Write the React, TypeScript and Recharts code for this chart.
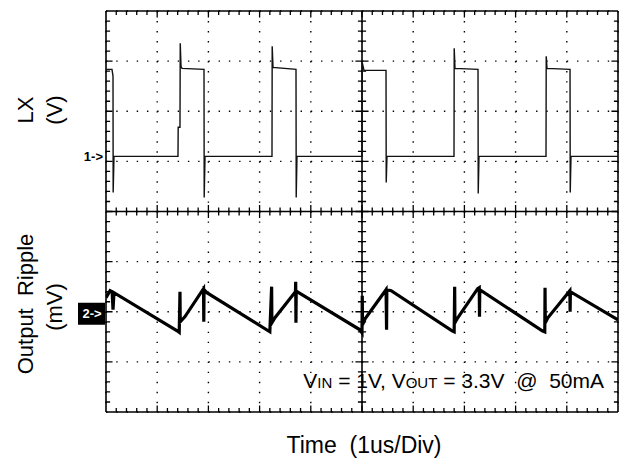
import { CartesianGrid, ComposedChart, Line, ReferenceLine, XAxis, YAxis } from 'recharts'

// time in us (1us/div), LX in volts (2V/div), ripple in mV (20mV/div)
const timeTicks = [0, 1, 2, 3, 4, 5, 6, 7, 8, 9, 10]
const lxTicks = [-10, -8, -6, -4, -2, 0, 2, 4, 6]

const lxTrace: [number, number][] = [
  [0, 3.67], [0.117, 3.67], [0.137, 3.4], [0.14, -1.24], [0.156, 0.2],
  [1.406, 0.2], [1.41, 1.36], [1.445, 1.36], [1.45, 4.71], [1.465, 3.79], [1.484, 3.71],
  [1.914, 3.67], [1.918, -1.44], [1.934, 0.2],
  [3.242, 0.2], [3.246, 4.59], [3.262, 3.75],
  [3.711, 3.67], [3.715, -1.44], [3.73, 0.2],
  [5.0, 0.2], [5.004, 3.95], [5.039, 3.63],
  [5.469, 3.63], [5.473, -0.84], [5.488, 0.2],
  [6.797, 0.2], [6.801, 4.51], [6.816, 3.71],
  [7.266, 3.67], [7.27, -1.28], [7.285, 0.2],
  [8.594, 0.2], [8.598, 4.19], [8.613, 3.71],
  [9.063, 3.67], [9.067, -1.24], [9.082, 0.2],
  [10, 0.2],
]

const rippleTrace: [number, number][] = [
  [0, 5.6], [0.08, 8.4], [0.12, 8.0], [0.137, 0.8], [0.156, 7.6],
  [1.39, -7.6], [1.43, -8.2], [1.445, 8.0], [1.45, -4.0], [1.54, -2.0],
  [1.905, 9.2], [1.91, -4.0], [1.915, 8.8], [1.97, 7.6],
  [3.2, -8.0], [3.235, 10.0], [3.24, -4.4], [3.3, -2.4],
  [3.7, 8.0], [3.705, 12.0], [3.71, -4.4], [3.715, 8.0], [3.73, 8.0],
  [4.96, -7.2], [5.0, -8.4], [5.005, 6.4], [5.01, -5.2], [5.06, -2.8],
  [5.47, 8.8], [5.48, -7.2], [5.485, 8.8], [5.57, 8.4],
  [6.76, -7.6], [6.8, -8.0], [6.81, 10.0], [6.815, -4.4], [6.87, -2.4],
  [7.26, 9.2], [7.29, 9.6], [7.295, -2.0], [7.3, 8.8],
  [8.52, -7.6], [8.57, -8.0], [8.575, 9.6], [8.58, -4.4], [8.63, -2.4],
  [9.06, 8.4], [9.065, 0], [9.07, 8.0],
  [10, -3.2],
]

// channel 2 ground sits 3 div below channel 1 ground, 20mV/div against 2V/div
const CH2_OFFSET = -6
const CH2_SCALE = 0.1

const lxData = lxTrace.map(([t, y]) => ({ t, y }))
const rippleData = rippleTrace.map(([t, mv]) => ({ t, y: CH2_OFFSET + mv * CH2_SCALE }))

const FONT = '"Liberation Sans", Arial, sans-serif'

// graticule minor marks every 0.2 div (0.2us across, 0.4V down)
const xMinor = Array.from({ length: 49 }, (_, i) => +((i + 1) * 0.2).toFixed(1))
const yMinor = Array.from({ length: 39 }, (_, i) => +(6 - (i + 1) * 0.4).toFixed(1))
const TY = 0.16 // ~4px in volts
const TX = 0.08 // ~4px in us

type Pt = { t: number; y: number | null }

function combV(level: number, a: number, b: number): Pt[] {
  const out: Pt[] = []
  xMinor.forEach((t, i) => {
    const k = (i + 1) % 5 === 0 ? 1.6 : 1
    out.push({ t, y: level + a * k }, { t, y: level + b * k }, { t, y: null })
  })
  return out
}

function combH(x: number, a: number, b: number): Pt[] {
  const out: Pt[] = []
  yMinor.forEach((y, i) => {
    const k = (i + 1) % 5 === 0 ? 1.6 : 1
    out.push({ t: x + a * k, y }, { t: x + b * k, y }, { t: x + b * k, y: null })
  })
  return out
}

const topComb = combV(6, 0, -TY)
const bottomComb = combV(-10, 0, TY)
const midHComb = combV(-2, -TY, TY)
const leftComb = combH(0, 0, TX)
const rightComb = combH(10, 0, -TX)
const midVComb = combH(5, -TX, TX)

export default function App() {
  return (
    <div style={{ position: 'absolute', left: 0, top: 0, width: 629, height: 462, background: '#fff', lineHeight: 0 }}>
      <div style={{ position: 'relative', width: 629, height: 462 }}>
        <ComposedChart width={629} height={462} margin={{ top: 11, left: 106, right: 11, bottom: 50 }}>
          <XAxis type="number" dataKey="t" domain={[0, 10]} ticks={timeTicks} orientation="top" mirror
            tickLine={false} tickFormatter={() => ''} axisLine={false} allowDataOverflow />
          <YAxis yAxisId="lx" type="number" dataKey="y" domain={[-10, 6]} ticks={lxTicks} hide allowDataOverflow />
          <CartesianGrid yAxisId="lx" vertical={false} stroke="#000" strokeWidth={1.4} strokeDasharray="1.4 8.84" />
          <CartesianGrid yAxisId="lx" horizontal={false} stroke="#000" strokeWidth={1.4} strokeDasharray="1.4 8.62" />
          <ReferenceLine yAxisId="lx" x={0} stroke="#000" strokeWidth={1.6} />
          <ReferenceLine yAxisId="lx" x={10} stroke="#000" strokeWidth={1.6} />
          <ReferenceLine yAxisId="lx" x={5} stroke="#000" strokeWidth={1.6} />
          <ReferenceLine yAxisId="lx" y={6} stroke="#000" strokeWidth={1.6} />
          <ReferenceLine yAxisId="lx" y={-10} stroke="#000" strokeWidth={1.6} />
          <ReferenceLine yAxisId="lx" y={-2} stroke="#000" strokeWidth={1.6} />
          <Line yAxisId="lx" data={topComb} dataKey="y" stroke="#000" strokeWidth={1.3} dot={false} isAnimationActive={false} />
          <Line yAxisId="lx" data={bottomComb} dataKey="y" stroke="#000" strokeWidth={1.3} dot={false} isAnimationActive={false} />
          <Line yAxisId="lx" data={midHComb} dataKey="y" stroke="#000" strokeWidth={1.3} dot={false} isAnimationActive={false} />
          <Line yAxisId="lx" data={leftComb} dataKey="y" stroke="#000" strokeWidth={1.3} dot={false} isAnimationActive={false} />
          <Line yAxisId="lx" data={rightComb} dataKey="y" stroke="#000" strokeWidth={1.3} dot={false} isAnimationActive={false} />
          <Line yAxisId="lx" data={midVComb} dataKey="y" stroke="#000" strokeWidth={1.3} dot={false} isAnimationActive={false} />
          <ReferenceLine
            yAxisId="lx"
            y={0}
            stroke="none"
            label={({ viewBox }: any) => (
              <text x={viewBox.x - 3} y={viewBox.y} textAnchor="end" fontFamily={FONT} fontWeight="bold" fontSize={13} fill="#000">
                1-&gt;
              </text>
            )}
          />
          <ReferenceLine
            yAxisId="lx"
            y={CH2_OFFSET}
            stroke="none"
            label={({ viewBox }: any) => (
              <g>
                <rect x={viewBox.x - 28} y={viewBox.y - 9} width={27} height={22} fill="#000" />
                <text x={viewBox.x - 14} y={viewBox.y + 6} textAnchor="middle" fontFamily={FONT} fontWeight="bold" fontSize={13} fill="#fff">
                  2-&gt;
                </text>
              </g>
            )}
          />
          <Line yAxisId="lx" data={lxData} dataKey="y" stroke="#111" strokeWidth={1.4} dot={false} isAnimationActive={false} />
          <Line yAxisId="lx" data={rippleData} dataKey="y" stroke="#000" strokeWidth={3.2} dot={false} isAnimationActive={false} />
        </ComposedChart>
        <svg width={629} height={462} style={{ position: 'absolute', left: 0, top: 0 }}>
          <g fontFamily={FONT} fontSize={22} fill="#000">
            <text transform="translate(33,110) rotate(-90)" textAnchor="middle">LX</text>
            <text transform="translate(62,110) rotate(-90)" textAnchor="middle">(V)</text>
            <text transform="translate(33,304) rotate(-90)" textAnchor="middle" xmlSpace="preserve">Output  Ripple</text>
            <text transform="translate(62,307) rotate(-90)" textAnchor="middle">(mV)</text>
            <text x={364} y={453} textAnchor="middle" fontSize={23} xmlSpace="preserve">Time  (1us/Div)</text>
            <text x={604} y={388} textAnchor="end" fontSize={21} xmlSpace="preserve">
              V<tspan fontSize={15}>IN</tspan> = 1V, V<tspan fontSize={15}>OUT</tspan> = 3.3V  @  50mA
            </text>
          </g>
        </svg>
      </div>
    </div>
  )
}
